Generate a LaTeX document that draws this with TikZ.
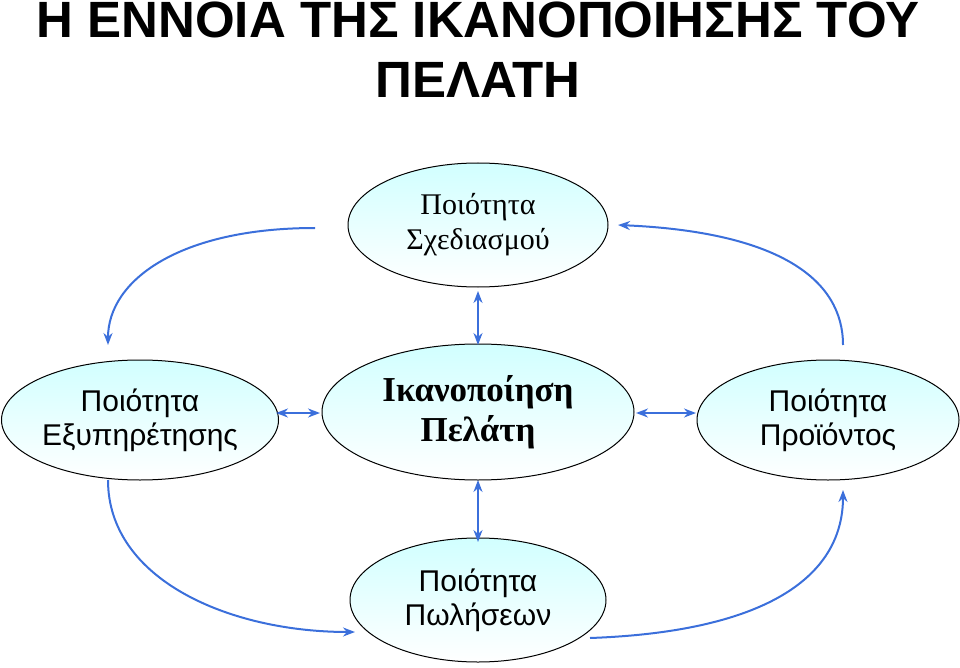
\documentclass[tikz,border=0pt]{standalone}
\usepackage{fontspec}
\setmainfont{Liberation Serif}
\setsansfont{Liberation Sans}
\usetikzlibrary{shapes.geometric,arrows.meta}
\begin{document}
\begin{tikzpicture}[x=1pt,y=-1pt,
  ell/.style={ellipse,draw=black,line width=1pt,top color=cyan!18,bottom color=white,minimum width=#1,align=center,inner sep=0pt},
  arr/.style={color={rgb,255:red,59;green,111;blue,219},line width=2pt,-{Stealth[length=12pt,width=9pt]}},
  darr/.style={arr,{Stealth[length=12pt,width=9pt]}-{Stealth[length=12pt,width=9pt]}},
  stxt/.style={font=\sffamily\fontsize{30}{34}\selectfont}]
\useasboundingbox (0,0) rectangle (960,668);
\node[font=\sffamily\bfseries\fontsize{51}{60}\selectfont,align=center] (title) at (478,50) {Η ΕΝΝΟΙΑ ΤΗΣ ΙΚΑΝΟΠΟΙΗΣΗΣ ΤΟΥ\\ΠΕΛΑΤΗ};
\node[ell=260pt,minimum height=124pt,font=\fontsize{30}{35}\selectfont] (top) at (478,225) {Ποιότητα\\Σχεδιασμού};
\node[ell=270pt,minimum height=120pt,stxt] (left) at (140,420) {Ποιότητα\\Εξυπηρέτησης};
\node[ell=312pt,minimum height=136pt,font=\bfseries\fontsize{35}{40}\selectfont] (mid) at (478,412) {Ικανοποίηση\\Πελάτη};
\node[ell=262pt,minimum height=120pt,stxt] (right) at (828,420) {Ποιότητα\\Προϊόντος};
\node[ell=256pt,minimum height=124pt,stxt] (bot) at (478,600) {Ποιότητα\\Πωλήσεων};
\coordinate (a1) at (315,228); \coordinate (a2) at (108,345);
\coordinate (b1) at (618,225); \coordinate (b2) at (843,345);
\coordinate (c1) at (108,480); \coordinate (c2) at (355,632);
\coordinate (d1) at (590,638); \coordinate (d2) at (843,490);
\draw[arr] (a1) .. controls (180,228) and (108,280) .. (a2);
\draw[arr,{Stealth[length=12pt,width=9pt]}-] (b1) .. controls (780,232) and (843,280) .. (b2);
\draw[arr] (c1) .. controls (108,580) and (230,632) .. (c2);
\draw[arr] (d1) .. controls (760,632) and (843,580) .. (d2);
\coordinate (e1) at (276,413); \coordinate (e2) at (320,413);
\coordinate (f1) at (636,413); \coordinate (f2) at (696,413);
\coordinate (g1) at (478,291); \coordinate (g2) at (478,345);
\coordinate (h1) at (478,480); \coordinate (h2) at (478,542);
\draw[darr] (e1) -- (e2);
\draw[darr] (f1) -- (f2);
\draw[darr] (g1) -- (g2);
\draw[darr] (h1) -- (h2);
\end{tikzpicture}
\end{document}
